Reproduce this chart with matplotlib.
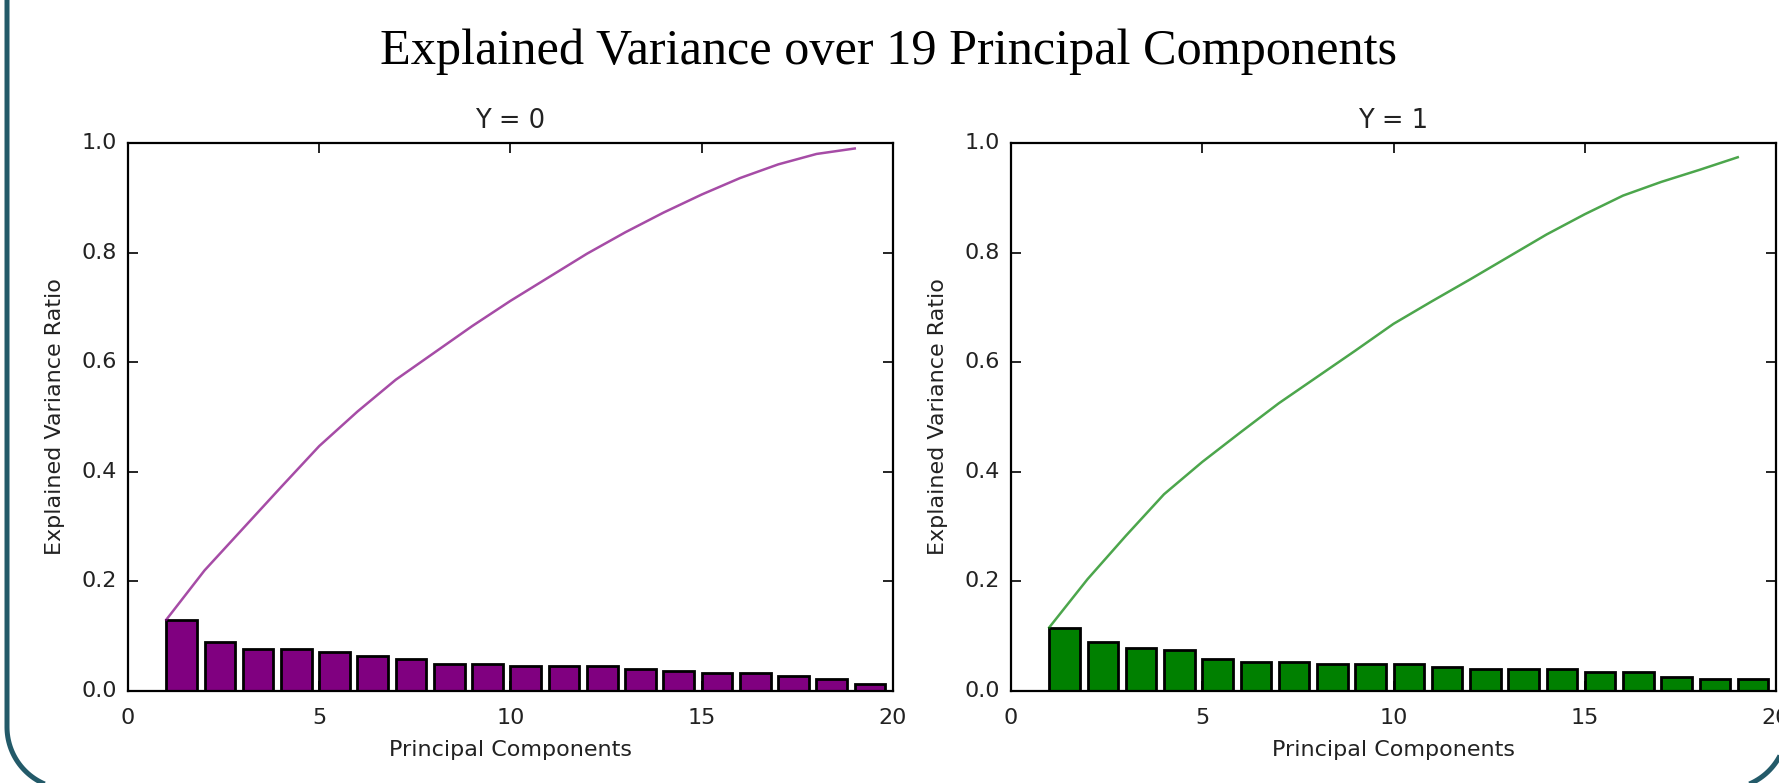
import matplotlib
matplotlib.use("Agg")
import matplotlib.pyplot as plt
import numpy as np

# principal component index (bars start at the left edge of each index)
components = list(range(1, 20))

# explained variance ratio per component, class Y = 0
ratio_y0 = [0.130, 0.089, 0.076, 0.076, 0.072, 0.063, 0.058, 0.049, 0.049, 0.045,
            0.045, 0.045, 0.041, 0.036, 0.032, 0.032, 0.027, 0.022, 0.012]
# cumulative explained variance, class Y = 0
cumulative_y0 = [0.130, 0.220, 0.296, 0.372, 0.447, 0.510, 0.568, 0.617, 0.666, 0.712,
                 0.755, 0.798, 0.837, 0.873, 0.906, 0.936, 0.961, 0.980, 0.990]

# explained variance ratio per component, class Y = 1
ratio_y1 = [0.115, 0.089, 0.079, 0.075, 0.058, 0.053, 0.053, 0.049, 0.049, 0.049,
            0.044, 0.040, 0.040, 0.040, 0.035, 0.035, 0.026, 0.022, 0.022]
# cumulative explained variance, class Y = 1
cumulative_y1 = [0.116, 0.204, 0.283, 0.359, 0.418, 0.472, 0.525, 0.573, 0.621, 0.670,
                 0.711, 0.751, 0.792, 0.833, 0.870, 0.904, 0.929, 0.951, 0.974]

x_ticks = [0, 5, 10, 15, 20]
y_ticks = [0.0, 0.2, 0.4, 0.6, 0.8, 1.0]

plt.style.use('classic')
plt.rcParams['font.family'] = ['DejaVu Sans']

W, H = 1779, 783
fig = plt.figure(figsize=(W / 100, H / 100), dpi=100, facecolor='white')

# slide frame: rounded rectangle, only the left and bottom parts fall inside the picture
bg = fig.add_axes([0, 0, 1, 1])
bg.set_xlim(0, W)
bg.set_ylim(H, 0)
bg.axis('off')
left, right, bottom_px, radius = 7, 1787, 789, 62
t = np.linspace(0, np.pi / 2, 40)
arc_l_x = left + radius - radius * np.cos(t)
arc_l_y = bottom_px - radius + radius * np.sin(t)
arc_r_x = right - radius + radius * np.sin(t)
arc_r_y = bottom_px - radius + radius * np.cos(t)
frame_x = np.concatenate([[left], arc_l_x, arc_r_x, [right]])
frame_y = np.concatenate([[-20], arc_l_y, arc_r_y, [-20]])
bg.plot(frame_x, frame_y, color='#235A69', linewidth=3.6, solid_capstyle='butt')

fig.text(889 / W, 1 - 52 / H, 'Explained Variance over 19 Principal Components',
         family='Liberation Serif', fontsize=36.2, ha='center', va='center', color='black')


def draw_panel(rect, ratios, cumulative, bar_color, line_color, title):
    ax = fig.add_axes(rect)
    ax.bar(components, ratios, width=0.8, align='edge', color=bar_color,
           edgecolor='black', linewidth=2.0)
    ax.plot(components, cumulative, color=line_color, alpha=0.7, linewidth=1.8)
    ax.set_xlim(0, 20)
    ax.set_ylim(0, 1)
    ax.set_xticks(x_ticks)
    ax.set_yticks(y_ticks)
    ax.set_xticklabels([str(t) for t in x_ticks])
    ax.set_yticklabels(['%.1f' % t for t in y_ticks])
    ax.tick_params(direction='in', length=7, width=1.2, labelsize=16, pad=8,
                   top=True, right=True, colors='black', labelcolor='#222222')
    ax.tick_params(axis='x', pad=12)
    for spine in ax.spines.values():
        spine.set_linewidth(1.6)
    ax.set_xlabel('Principal Components', fontsize=16, labelpad=9, color='#222222')
    ax.set_ylabel('Explained Variance Ratio', fontsize=16, labelpad=12, color='#222222')
    ax.set_title(title, fontsize=18.5, pad=11, color='#222222')
    ax.set_facecolor('white')
    return ax


bottom = 1 - 691 / H
height = 548 / H
draw_panel([128 / W, bottom, 765 / W, height], ratio_y0, cumulative_y0,
           'purple', 'purple', 'Y = 0')
draw_panel([1011 / W, bottom, 765 / W, height], ratio_y1, cumulative_y1,
           'green', 'green', 'Y = 1')

fig.savefig('out.png', dpi=100, facecolor='white')
